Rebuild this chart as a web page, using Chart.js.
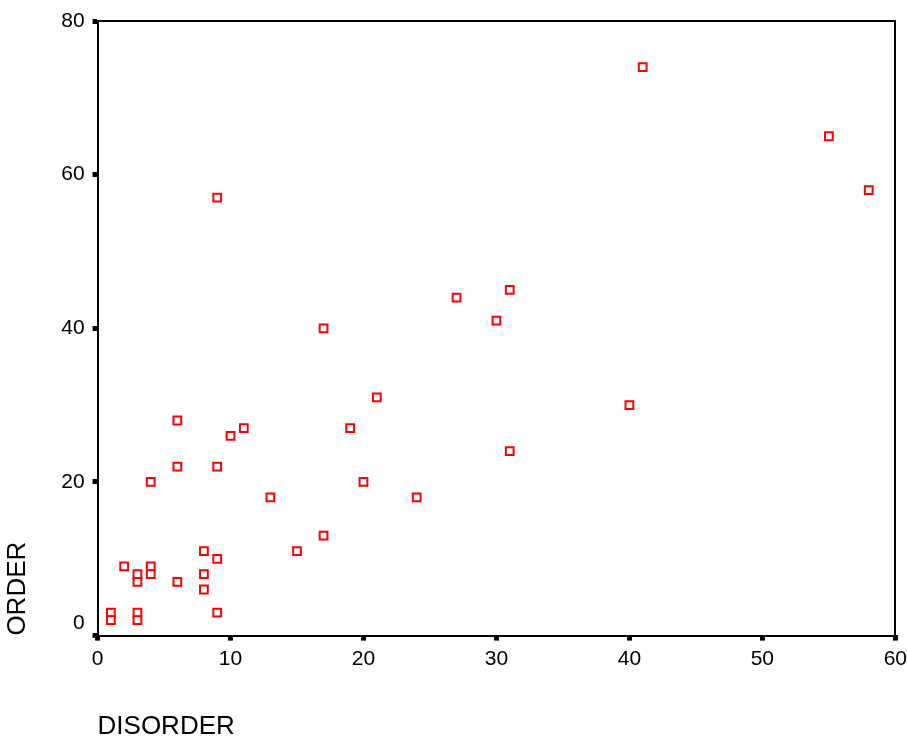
<!DOCTYPE html>
<html>
<head>
<meta charset="utf-8">
<script src="https://cdn.jsdelivr.net/npm/chart.js@4/dist/chart.umd.min.js"></script>
<style>
  html, body { margin: 0; padding: 0; background: #fff; overflow: hidden; }
  /* a little wider than the window so the frame reaches x=895 like the original */
  #wrap { width: 913px; height: 742px; position: relative; }
</style>
</head>
<body>
<div id="wrap"><canvas id="scatter"></canvas></div>
<script>
// DISORDER (x) vs ORDER (y)
const disorder = [41, 55, 58, 9, 27, 31, 30, 17, 21, 40, 19, 11, 10, 6, 6, 9, 31, 4, 20, 13,
                  24, 17, 15, 8, 9, 2, 4, 4, 3, 3, 6, 8, 8, 9, 1, 1, 3, 3];
const order    = [74, 65, 58, 57, 44, 45, 41, 40, 31, 30, 27, 27, 26, 28, 22, 22, 24, 20, 20, 18,
                  18, 13, 11, 11, 10, 9, 9, 8, 8, 7, 7, 8, 6, 3, 3, 2, 3, 2];
const xTicks = [0, 10, 20, 30, 40, 50, 60];
const yTicks = [0, 20, 40, 60, 80];

const points = disorder.map((d, i) => ({ x: d, y: order[i] }));

const tickFont = { family: 'Liberation Sans, Arial, sans-serif', size: 21 };
const titleFont = { family: 'Liberation Sans, Arial, sans-serif', size: 26 };

// Chart setup
const ctx = document.getElementById('scatter').getContext('2d');
const chart = new Chart(ctx, {
    type: 'scatter',
    data: {
        datasets: [{
            label: 'ORDER',
            data: points,
            pointStyle: 'rect',
            radius: 5.5,
            hoverRadius: 5.5,
            borderColor: '#ff0000',
            backgroundColor: '#ffffff',
            borderWidth: 2
        }]
    },
    options: {
        responsive: true,
        maintainAspectRatio: false,
        animation: false,
        layout: { padding: { left: 2, right: 0, top: 13, bottom: 0 } },
        plugins: {
            legend: { display: false },
            tooltip: { enabled: false }
        },
        scales: {
            x: {
                type: 'linear',
                min: xTicks[0],
                max: xTicks[xTicks.length - 1],
                afterBuildTicks: (axis) => { axis.ticks = xTicks.map(v => ({ value: v })); },
                grid: { drawOnChartArea: false, color: '#000', lineWidth: 5, tickLength: 5 },
                border: { color: '#000', width: 2 },
                ticks: { color: '#000', font: tickFont, padding: 6, maxRotation: 0 },
                title: {
                    display: true, text: 'DISORDER', align: 'start', color: '#000',
                    font: titleFont, padding: { top: 33, bottom: 0 }
                }
            },
            y: {
                type: 'linear',
                min: yTicks[0],
                max: yTicks[yTicks.length - 1],
                afterBuildTicks: (axis) => { axis.ticks = yTicks.map(v => ({ value: v })); },
                grid: { drawOnChartArea: false, color: '#000', lineWidth: 5, tickLength: 5 },
                border: { color: '#000', width: 2 },
                // the 0 label sits a little above its tick in the original
                ticks: {
                    color: '#000', font: tickFont, padding: 8,
                    callback: (v) => (v === 0 ? ['0', ''] : String(v))
                },
                title: {
                    display: true, text: 'ORDER', align: 'start', color: '#000',
                    font: titleFont, padding: { top: 0, bottom: 20 }
                }
            },
            // frame on top and right
            x2: {
                type: 'linear', position: 'top', min: 0, max: 60,
                grid: { display: false },
                ticks: { display: false },
                border: { color: '#000', width: 2 }
            },
            y2: {
                type: 'linear', position: 'right', min: 0, max: 80,
                grid: { display: false },
                ticks: { display: false },
                border: { color: '#000', width: 2 }
            }
        }
    }
});
</script>
</body>
</html>
